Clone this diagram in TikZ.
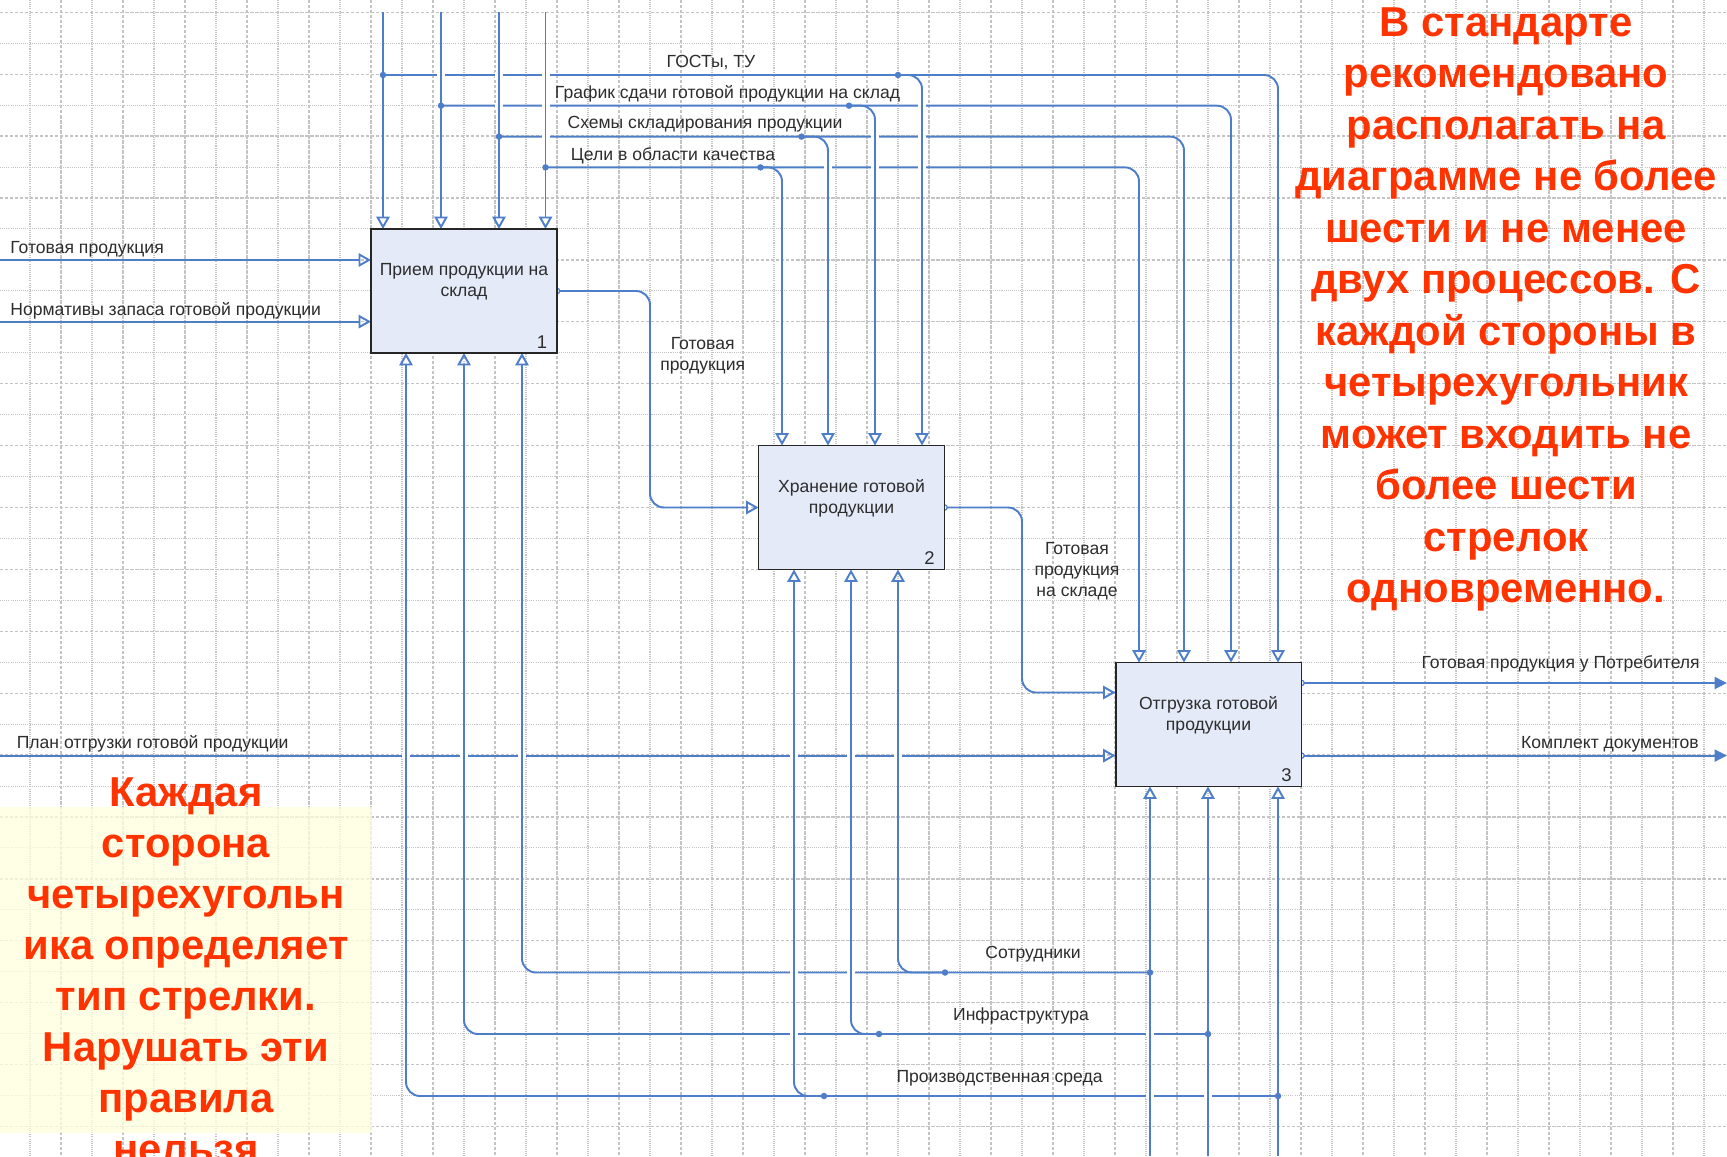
\documentclass[tikz,border=0pt]{standalone}
\usepackage{fontspec}
\setmainfont{Liberation Sans}
\usetikzlibrary{arrows.meta,calc}

\definecolor{wireblue}{RGB}{78,126,202}
\definecolor{boxfill}{RGB}{228,234,247}
\definecolor{notered}{RGB}{255,51,0}
\definecolor{notebg}{RGB}{255,255,222}
\definecolor{gridgray}{RGB}{196,196,196}
\definecolor{ink}{RGB}{45,45,45}

\tikzset{
  wire/.style={draw=wireblue, line width=1.1pt, rounded corners=0.28cm},
  tobox/.style={-{Triangle[open,length=0.25cm,width=0.27cm]}},
  toedge/.style={-{Triangle[length=0.25cm,width=0.24cm]}},
  proc/.style={draw=black!85, fill=boxfill, line width=1.1pt,
    minimum width=3.72cm, minimum height=2.48cm, inner sep=0pt, outer sep=0pt},
  btext/.style={align=center, text=ink, font=\fontsize{10}{11.9}\selectfont, inner sep=0pt},
  lbl/.style={text=ink, font=\fontsize{10}{11.9}\selectfont, inner sep=0pt},
  num/.style={text=ink, font=\fontsize{10.5}{12}\selectfont, inner sep=0pt},
  note/.style={text=notered, font=\fontsize{23.8}{28}\selectfont\bfseries, inner sep=0pt, anchor=base},
  gmajor/.style={draw=gridgray, line width=0.75pt, dash pattern=on 1.9pt off 0.95pt},
  gminor/.style={draw=gridgray, line width=0.6pt, dash pattern=on 0.6pt off 0.6pt},
  jdot/.style={fill=wireblue},
  startmark/.style={draw=wireblue, fill=white, line width=0.7pt},
}

\begin{document}
\begin{tikzpicture}[x=0.02cm, y=-0.02cm]
\useasboundingbox (0,0) rectangle (1727,1156);
\clip (0,0) rectangle (1727,1156);
\fill[white] (0,0) rectangle (1727,1156);

% drawing grid
\foreach \k in {1,3,...,55} \draw[gminor] ({31*\k-1},0) -- ({31*\k-1},1156);
\foreach \k in {2,4,...,54} \draw[gmajor] ({31*\k-1},0) -- ({31*\k-1},1156);
\foreach \j in {1,3,...,35} \draw[gminor] (0,{12.3+30.95*\j}) -- (1727,{12.3+30.95*\j});
\foreach \j in {0,2,...,36} \draw[gmajor] (0,{12.3+30.95*\j}) -- (1727,{12.3+30.95*\j});

% note background
\fill[notebg, opacity=0.75] (0,807) rectangle (372,1133);

% activity boxes (placed first so the wires can refer to them)
\node[proc] (b1) at (464,291) {};
\node[proc] (b2) at (851.5,507.5) {};
\node[proc] (b3) at (1208.5,724.5) {};

% free ends and junctions
\coordinate (tA) at (383,12);   \coordinate (tB) at (441,12);
\coordinate (tC) at (499,12);   \coordinate (tD) at (545.5,12);
\coordinate (jA) at (383,75);   \coordinate (jB) at (441,105.7);
\coordinate (jC) at (499,136.6); \coordinate (jD) at (545.5,167.4);
\coordinate (kA) at (898,75);   \coordinate (kB) at (849,105.7);
\coordinate (kC) at (801.5,136.6); \coordinate (kD) at (760.5,167.4);
\coordinate (iA) at (0,260);    \coordinate (iB) at (0,321.6);
\coordinate (iC) at (0,755.6);
\coordinate (oA) at (1727,683); \coordinate (oB) at (1727,755.6);
\coordinate (sA) at (1150,1156); \coordinate (sB) at (1208,1156);
\coordinate (sC) at (1278,1156);
\coordinate (mA) at (1150,972.5); \coordinate (mB) at (1208,1034);
\coordinate (mC) at (1278,1096);
\coordinate (nA) at (945,972.5); \coordinate (nB) at (879,1034);
\coordinate (nC) at (824,1096);

% controls
\draw[wire,tobox] (tA) -- (tA |- b1.north);
\draw[wire,tobox] (tB) -- (tB |- b1.north);
\draw[wire,tobox] (tC) -- (tC |- b1.north);
\draw[wire,tobox] (tD) -- (tD |- b1.north);
\draw[wire,tobox] (jA) -| (1278,0 |- b3.north);
\draw[wire,tobox] (kA) -| (922,0 |- b2.north);
\draw[wire,tobox] (jB) -| (1231,0 |- b3.north);
\draw[wire,tobox] (kB) -| (875,0 |- b2.north);
\draw[wire,tobox] (jC) -| (1184,0 |- b3.north);
\draw[wire,tobox] (kC) -| (828,0 |- b2.north);
\draw[wire,tobox] (jD) -| (1139,0 |- b3.north);
\draw[wire,tobox] (kD) -| (782,0 |- b2.north);

% inputs
\draw[wire,tobox] (iA) -- (iA -| b1.west);
\draw[wire,tobox] (iB) -- (iB -| b1.west);
\draw[wire,tobox] (iC) -- (iC -| b3.west);

% links between activities
\draw[wire,tobox] (b1.east) -- (b1.east -| 650,0) |- (b2.west);
\draw[wire,tobox] (b2.east) -- (b2.east -| 1022,0) |- (b3.west |- 0,692.5);

% outputs
\draw[wire,toedge] (oA -| b3.east) -- (oA);
\draw[wire,toedge] (oB -| b3.east) -- (oB);

% mechanisms
\draw[wire,tobox] (sA) -- (sA |- b3.south);
\draw[wire,tobox] (sB) -- (sB |- b3.south);
\draw[wire,tobox] (sC) -- (sC |- b3.south);
\draw[wire,tobox] (mA) -| (522,0 |- b1.south);
\draw[wire,tobox] (mB) -| (464,0 |- b1.south);
\draw[wire,tobox] (mC) -| (406,0 |- b1.south);
\draw[wire,tobox] (nA) -| (898,0 |- b2.south);
\draw[wire,tobox] (nB) -| (851,0 |- b2.south);
\draw[wire,tobox] (nC) -| (794,0 |- b2.south);

% breaks in horizontal wires where vertical ones pass over
\foreach \x/\y in {441/75, 499/75, 545.5/75, 499/105.7, 545.5/105.7, 922/105.7,
  545.5/136.6, 875/136.6, 922/136.6, 828/167.4, 875/167.4, 922/167.4,
  406/755.6, 464/755.6, 522/755.6, 794/755.6, 851/755.6, 898/755.6,
  794/972.5, 851/972.5, 794/1034, 1150/1034, 1150/1096, 1208/1096} {
  \fill[white] (\x-4,\y-2.6) rectangle (\x+4,\y+2.6);
  \draw[wireblue,line width=1.1pt] (\x,\y-8) -- (\x,\y+8);
}

% output start marks
\draw[startmark] (b1.east) circle[radius=0.055cm];
\draw[startmark] (b2.east) circle[radius=0.055cm];
\draw[startmark] (oA -| b3.east) circle[radius=0.055cm];
\draw[startmark] (oB -| b3.east) circle[radius=0.055cm];

% boxes drawn again on top of wire ends
\node[proc] at (b1) {};
\node[proc] at (b2) {};
\node[proc] at (b3) {};

% junction dots
\foreach \p in {jA,jB,jC,jD,kA,kB,kC,kD,mA,mB,mC,nA,nB,nC}
  \fill[jdot] (\p) circle[radius=0.065cm];

% box captions and numbers
\node[btext] (b1t) at ($(b1.center)+(0,-9)$) {Прием продукции на\\склад};
\node[btext] (b2t) at ($(b2.center)+(0,-9)$) {Хранение готовой\\продукции};
\node[btext] (b3t) at ($(b3.center)+(0,-9)$) {Отгрузка готовой\\продукции};
\node[num] (b1n) at ($(b1.south east)+(-15,-11)$) {1};
\node[num] (b2n) at ($(b2.south east)+(-15,-11)$) {2};
\node[num] (b3n) at ($(b3.south east)+(-15,-11)$) {3};

% wire labels
\node[lbl, anchor=base] (lGost) at (711,67.6) {ГОСТы, ТУ};
\node[lbl, anchor=base] (lGraf) at (727.5,98.4) {График сдачи готовой продукции на склад};
\node[lbl, anchor=base] (lSkh) at (705,128.8) {Схемы складирования продукции};
\node[lbl, anchor=base] (lCel) at (673,160.4) {Цели в области качества};
\node[lbl, anchor=base west] (lIn1) at (10,253.5) {Готовая продукция};
\node[lbl, anchor=base west] (lIn2) at (10,315) {Нормативы запаса готовой продукции};
\node[lbl, anchor=base west] (lIn3) at (16.5,748.8) {План отгрузки готовой продукции};
\node[lbl, anchor=base east] (lOut1) at (1700,668.5) {Готовая продукция у Потребителя};
\node[lbl, anchor=base east] (lOut2) at (1699,748) {Комплект документов};
\node[lbl, anchor=base] (lM1) at (1033,958) {Сотрудники};
\node[lbl, anchor=base] (lM2) at (1021,1020.8) {Инфраструктура};
\node[lbl, anchor=base] (lM3) at (999.6,1082.4) {Производственная среда};
\node[btext] (lL1) at (702.7,355.5) {Готовая\\продукция};
\node[btext] (lL2) at (1077,571) {Готовая\\продукция\\на складе};

% notes
\foreach \t [count=\i from 0] in {В стандарте,рекомендовано,располагать на,
  диаграмме не более,шести и не менее,двух процессов. С,каждой стороны в,
  четырехугольник,может входить не,более шести,стрелок,одновременно.}
  \node[note] (rn\i) at (1506,{36.4+51.5*\i}) {\t};
\foreach \t [count=\i from 0] in {Каждая,сторона,четырехугольн,ика определяет,
  тип стрелки.,Нарушать эти,правила,нельзя}
  \node[note] (ln\i) at (186,{806.7+51*\i}) {\t};
\end{tikzpicture}
\end{document}
